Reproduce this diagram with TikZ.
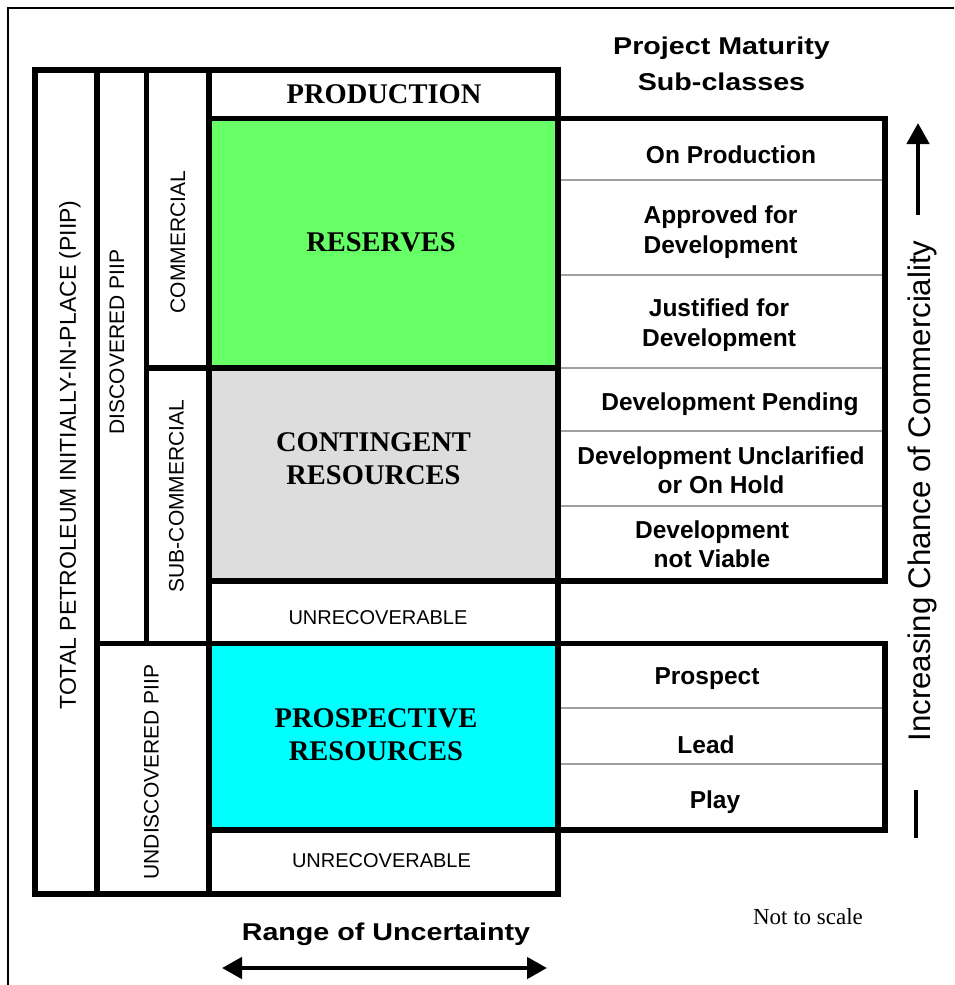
\documentclass[tikz,border=0pt]{standalone}
\usepackage{fontspec}
\setmainfont{Liberation Serif}
\setsansfont{Liberation Sans}
\newfontfamily\titlefont[FakeStretch=1.18]{Liberation Sans}
\usetikzlibrary{arrows.meta}

\definecolor{resgreen}{HTML}{66FF66}
\definecolor{contgray}{HTML}{DDDDDD}
\definecolor{prospcyan}{HTML}{00FFFF}
\definecolor{rowline}{HTML}{A0A0A0}

\begin{document}
\begin{tikzpicture}[x=1pt,y=-1pt,
  cell/.style={draw=black, line width=5.5pt, rectangle, inner sep=0pt, outer sep=0pt},
  row/.style={draw=rowline, line width=1.5pt, rectangle, inner sep=0pt, outer sep=0pt},
  classlabel/.style={font=\bfseries\fontsize{28.5}{33}\selectfont, align=center, inner sep=0pt},
  sublabel/.style={font=\sffamily\bfseries\fontsize{24.5}{29.5}\selectfont, align=center, inner sep=0pt},
  sidelabel/.style={font=\sffamily\fontsize{21}{25}\selectfont, rotate=90, inner sep=0pt},
  unrec/.style={font=\sffamily\fontsize{20}{24}\selectfont, inner sep=0pt},
  heading/.style={font=\titlefont\bfseries\fontsize{24.3}{36}\selectfont, align=center, inner sep=0pt},
  fatarrow/.style={line width=4.5pt, -{Triangle[length=21pt,width=22pt]}},
  fatarrows/.style={line width=4.5pt, {Triangle[length=20pt,width=21pt]}-{Triangle[length=20pt,width=21pt]}}
]
\useasboundingbox (0,0) rectangle (954,985);

% outer page frame (cut at the right and bottom)
\draw[line width=2pt] (8,985) -- (8,8) -- (954,8);

% ---- left classification columns ----
\node[cell, minimum width=62,   minimum height=824]   (total)   at (66,482) {};
\node[cell, minimum width=49.5, minimum height=573.5] (disc)    at (121.75,356.75) {};
\node[cell, minimum width=62.5, minimum height=298]   (comm)    at (177.75,219) {};
\node[cell, minimum width=62.5, minimum height=275.5] (subcomm) at (177.75,505.75) {};
\node[cell, minimum width=112,  minimum height=250.5] (undisc)  at (153,768.75) {};

% ---- resource classes ----
\node[cell, minimum width=349, minimum height=48.5]  (prod)   at (383.5,94.25) {};
\node[cell, minimum width=349, minimum height=249.5, fill=resgreen]  (res)  at (383.5,243.25) {};
\node[cell, minimum width=349, minimum height=213,   fill=contgray]  (cont) at (383.5,474.5) {};
\node[cell, minimum width=349, minimum height=62.5]  (unrecA) at (383.5,612.25) {};
\node[cell, minimum width=349, minimum height=186.5, fill=prospcyan] (prosp) at (383.5,736.75) {};
\node[cell, minimum width=349, minimum height=64]    (unrecB) at (383.5,862) {};

% ---- project maturity sub-class rows ----
\node[row, minimum width=327, minimum height=61.5] (rOnProd)   at (721.5,149.25) {};
\node[row, minimum width=327, minimum height=95]   (rApproved) at (721.5,227.5) {};
\node[row, minimum width=327, minimum height=93]   (rJustified) at (721.5,321.5) {};
\node[row, minimum width=327, minimum height=63]   (rPending)  at (721.5,399.5) {};
\node[row, minimum width=327, minimum height=75]   (rUnclar)   at (721.5,468.5) {};
\node[row, minimum width=327, minimum height=75]   (rNotViable) at (721.5,543.5) {};
\node[row, minimum width=327, minimum height=64.5] (rProspect) at (721.5,675.75) {};
\node[row, minimum width=327, minimum height=56]   (rLead)     at (721.5,736) {};
\node[row, minimum width=327, minimum height=66]   (rPlay)     at (721.5,797) {};
\node[cell, minimum width=327, minimum height=462.5] (tabDisc)   at (721.5,349.75) {};
\node[cell, minimum width=327, minimum height=186.5] (tabUndisc) at (721.5,736.75) {};

% ---- class names ----
\node[classlabel] (tProd)  at (384,94)   {PRODUCTION};
\node[classlabel] (tRes)   at (381,242)  {RESERVES};
\node[classlabel] (tCont)  at (373.5,459) {CONTINGENT\\RESOURCES};
\node[classlabel] (tProsp) at (376,735)  {PROSPECTIVE\\RESOURCES};
\node[unrec] (tUnrecA) at (378,618) {UNRECOVERABLE};
\node[unrec] (tUnrecB) at (381.5,861) {UNRECOVERABLE};

% ---- column labels ----
\node[sidelabel, font=\sffamily\fontsize{23}{27}\selectfont] (tTotal) at (70,455) {TOTAL PETROLEUM INITIALLY-IN-PLACE (PIIP)};
\node[sidelabel] (tDisc)    at (117,342) {DISCOVERED PIIP};
\node[sidelabel] (tComm)    at (178,242) {COMMERCIAL};
\node[sidelabel] (tSubcomm) at (176.5,496) {SUB-COMMERCIAL};
\node[sidelabel] (tUndisc)  at (151.5,772) {UNDISCOVERED PIIP};

% ---- sub-class names ----
\node[sublabel] (sOnProd)    at (731,155)   {On Production};
\node[sublabel] (sApproved)  at (720.5,232) {Approved for\\Development};
\node[sublabel] (sJustified) at (719,325)   {Justified for\\Development};
\node[sublabel] (sPending)   at (730,404)   {Development Pending};
\node[sublabel] (sUnclar)    at (721,470)   {Development Unclarified\\or On Hold};
\node[sublabel] (sNotViable) at (712,544)   {Development\\not Viable};
\node[sublabel] (sProspect)  at (707,679)   {Prospect};
\node[sublabel] (sLead)      at (706,745)   {Lead};
\node[sublabel] (sPlay)      at (715,802)   {Play};

% ---- headings and axes ----
\node[heading] (hMaturity) at (721.5,64) {Project Maturity\\Sub-classes};
\node[heading] (hRange)    at (386,934)  {Range of Uncertainty};
\node[font=\fontsize{23}{27}\selectfont, inner sep=0pt] (hScale) at (808,917) {Not to scale};
\node[font=\sffamily\fontsize{31.2}{36}\selectfont, rotate=90, inner sep=0pt] (hChance) at (922,491) {Increasing Chance of Commerciality};

\coordinate (rangeL) at (222,968);
\coordinate (rangeR) at (547,968);
\draw[fatarrows] (rangeL) -- (rangeR);

\coordinate (chanceTop)  at (918,123);
\coordinate (chanceMid)  at (918,215);
\coordinate (chanceLow)  at (916,790);
\coordinate (chanceFoot) at (916,838);
\draw[fatarrow] (chanceMid) -- (chanceTop);
\draw[line width=4.5pt] (chanceLow) -- (chanceFoot);

\end{tikzpicture}
\end{document}
